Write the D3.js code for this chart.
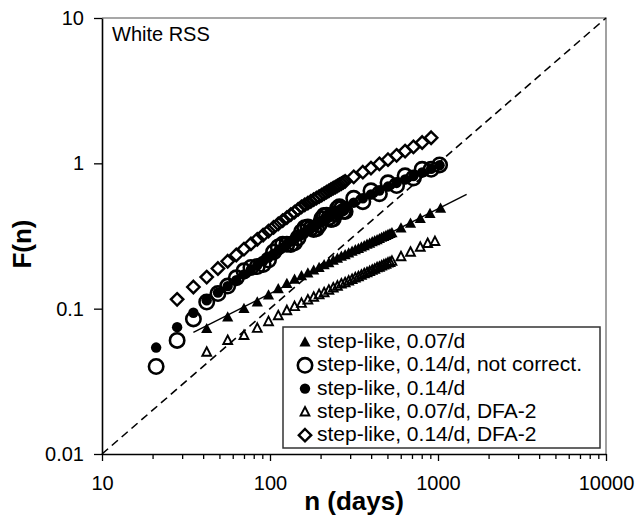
<!DOCTYPE html>
<html>
<head>
<meta charset="utf-8">
<script src="https://cdn.jsdelivr.net/npm/d3@7"></script>
<style>
  body { margin: 0; background: #fff; }
  svg { display: block; }
</style>
</head>
<body>
<div class="chart"></div>
<script>
// window sizes n (days) -- 0.14/d runs use 7-day steps, 0.07/d runs 14-day steps
var nStep7 = [21, 28, 35, 42, 49, 56, 63, 70, 77, 84, 91, 98, 105, 112, 119, 126, 133, 140, 147, 154,
  161, 168, 175, 182, 189, 196, 203, 210, 217, 224, 231, 238, 245, 252, 259, 266, 273, 280,
  315, 357, 399, 448, 504, 567, 637, 714, 805, 910, 1022];
var nDiamond = nStep7.slice(1, -1);
var nStep14 = [42, 56, 70, 84, 98, 112, 126, 140, 154, 168, 182, 196, 210, 224, 238, 252, 266, 280,
  294, 308, 322, 336, 350, 364, 378, 392, 406, 420, 434, 448, 462, 476, 490, 504, 518, 532];
var nTriFilled = nStep14.concat([602, 686, 784, 896, 1036]);
var nTriOpen = nStep14.concat([602, 686, 784, 868, 959]);

// F(n) values
var fStep007 = [0.0728, 0.0875, 0.100, 0.111, 0.124, 0.137, 0.149, 0.159, 0.168, 0.176, 0.184, 0.192,
  0.200, 0.207, 0.215, 0.222, 0.229, 0.235, 0.241, 0.248, 0.254, 0.259, 0.265, 0.271, 0.277, 0.282,
  0.288, 0.293, 0.298, 0.303, 0.309, 0.313, 0.318, 0.323, 0.328, 0.333, 0.358, 0.386, 0.417, 0.451, 0.490];
var fStep014NotCorr = [0.040, 0.0605, 0.085, 0.111, 0.127, 0.143, 0.163, 0.182, 0.192, 0.195, 0.201,
  0.216, 0.245, 0.266, 0.277, 0.277, 0.276, 0.284, 0.307, 0.338, 0.360, 0.364, 0.357, 0.350, 0.355,
  0.377, 0.415, 0.437, 0.439, 0.423, 0.410, 0.414, 0.448, 0.489, 0.503, 0.489, 0.468, 0.466,
  0.574, 0.545, 0.647, 0.618, 0.734, 0.704, 0.820, 0.793, 0.910, 0.909, 0.975];
var fStep014 = [0.054, 0.0746, 0.0938, 0.114, 0.129, 0.143, 0.157, 0.172, 0.186, 0.199, 0.212, 0.225,
  0.238, 0.251, 0.264, 0.277, 0.290, 0.302, 0.313, 0.325, 0.336, 0.347, 0.357, 0.368, 0.378, 0.389,
  0.399, 0.408, 0.418, 0.427, 0.436, 0.445, 0.453, 0.461, 0.470, 0.479, 0.488, 0.496,
  0.536, 0.574, 0.610, 0.650, 0.692, 0.733, 0.774, 0.818, 0.867, 0.918, 0.970];
var fStep007Dfa2 = [0.0502, 0.0605, 0.0655, 0.0733, 0.0815, 0.0895, 0.0970, 0.1035, 0.109, 0.115,
  0.120, 0.125, 0.129, 0.134, 0.139, 0.143, 0.148, 0.151, 0.155, 0.159, 0.163, 0.166, 0.170, 0.174,
  0.177, 0.180, 0.184, 0.187, 0.191, 0.193, 0.197, 0.200, 0.202, 0.206, 0.208, 0.212,
  0.228, 0.245, 0.265, 0.281, 0.290];
var fStep014Dfa2 = [0.116, 0.141, 0.165, 0.189, 0.212, 0.234, 0.257, 0.279, 0.300, 0.321, 0.342,
  0.362, 0.383, 0.404, 0.423, 0.444, 0.462, 0.482, 0.502, 0.518, 0.532, 0.547, 0.562, 0.577, 0.590,
  0.605, 0.619, 0.633, 0.647, 0.661, 0.675, 0.687, 0.700, 0.713, 0.726, 0.739, 0.752,
  0.807, 0.869, 0.927, 0.991, 1.059, 1.135, 1.214, 1.297, 1.391, 1.50];

// power-law fit through the 0.07/d points, and the slope-1 reference line
var fitLine = [[35, 0.0687], [1480, 0.612]];
var refLine = [[10, 0.01], [10000, 10]];

var xMajor = [10, 100, 1000, 10000];
var yMajor = [0.01, 0.1, 1, 10];
var legendLabels = ["step-like, 0.07/d", "step-like, 0.14/d, not correct.", "step-like, 0.14/d",
  "step-like, 0.07/d, DFA-2", "step-like, 0.14/d, DFA-2"];

var svgWidth = 638;
var svgHeight = 517;
var margin = { top: 18, right: 32, bottom: 63, left: 102 };
var width = svgWidth - margin.left - margin.right;
var height = svgHeight - margin.top - margin.bottom;
var fontFam = "'Liberation Sans', Arial, Helvetica, sans-serif";

var svg = d3.select(".chart")
  .append("svg")
  .attr("width", svgWidth)
  .attr("height", svgHeight)
  .style("font-family", fontFam);

var chartGroup = svg.append("g")
  .attr("transform", `translate(${margin.left}, ${margin.top})`);

var xLogScale = d3.scaleLog().domain([10, 10000]).range([0, width]);
var yLogScale = d3.scaleLog().domain([0.01, 10]).range([height, 0]);

var xMinor = [];
[10, 100, 1000].forEach(function(dec) {
  for (var k = 2; k < 10; k++) xMinor.push(k * dec);
});

// top and right frame (grey)
chartGroup.append("path")
  .attr("d", `M0,0H${width}V${height}`)
  .attr("fill", "none")
  .attr("stroke", "#8a8a8a")
  .attr("stroke-width", 1.6);

// axes
var xMinorAxis = chartGroup.append("g")
  .attr("transform", `translate(0, ${height})`)
  .call(d3.axisBottom(xLogScale).tickValues(xMinor).tickSize(5).tickFormat(""));
xMinorAxis.select(".domain").remove();

var xAxis = chartGroup.append("g")
  .attr("transform", `translate(0, ${height})`)
  .call(d3.axisBottom(xLogScale).tickValues(xMajor).tickSize(7).tickSizeOuter(0)
    .tickPadding(15).tickFormat(d => String(d)));

var yAxis = chartGroup.append("g")
  .call(d3.axisLeft(yLogScale).tickValues(yMajor).tickSize(8).tickSizeOuter(0)
    .tickPadding(10).tickFormat(d => String(d)));

[xMinorAxis, xAxis, yAxis].forEach(function(ax) {
  ax.attr("font-family", fontFam).attr("font-size", 20);
  ax.selectAll("line").attr("stroke", "#000").attr("stroke-width", 1.3);
  ax.selectAll(".domain").attr("stroke", "#000").attr("stroke-width", 1.6);
  ax.selectAll("text").attr("fill", "#000");
});

var lineGen = d3.line()
  .x(d => xLogScale(d[0]))
  .y(d => yLogScale(d[1]));

chartGroup.append("path")
  .attr("d", lineGen(refLine))
  .attr("fill", "none")
  .attr("stroke", "#000")
  .attr("stroke-width", 1.6)
  .attr("stroke-dasharray", "8,5");

// marker shapes
var shapes = {
  triFilled: { d: "M0,-5.8L5.6,4.4L-5.6,4.4Z", fill: "#000", stroke: "none", sw: 0 },
  triOpen: { d: "M0,-4.9L4.4,3.6L-4.4,3.6Z", fill: "none", stroke: "#000", sw: 1.9 },
  circOpen: { r: 7.2, fill: "none", stroke: "#000", sw: 2.6 },
  circFilled: { r: 5.2, fill: "#000", stroke: "none", sw: 0 },
  diamond: { d: "M0,-6.2L6.2,0L0,6.2L-6.2,0Z", fill: "none", stroke: "#000", sw: 2.4 }
};

function drawMarkers(sel, shape) {
  var s = shapes[shape];
  var m = s.r ? sel.append("circle").attr("r", s.r) : sel.append("path").attr("d", s.d);
  m.attr("fill", s.fill)
    .attr("stroke", s.stroke)
    .attr("stroke-width", s.sw)
    .attr("stroke-linejoin", "miter");
  return m;
}

var series = [
  { n: nTriFilled, f: fStep007, shape: "triFilled" },
  { n: nStep7, f: fStep014NotCorr, shape: "circOpen" },
  { n: nStep7, f: fStep014, shape: "circFilled" },
  { n: nTriOpen, f: fStep007Dfa2, shape: "triOpen" },
  { n: nDiamond, f: fStep014Dfa2, shape: "diamond" }
];

series.forEach(function(s) {
  var pts = chartGroup.append("g")
    .selectAll("g")
    .data(d3.zip(s.n, s.f))
    .enter()
    .append("g")
    .attr("transform", d => `translate(${xLogScale(d[0])}, ${yLogScale(d[1])})`);
  drawMarkers(pts, s.shape);
});

chartGroup.append("path")
  .attr("d", lineGen(fitLine))
  .attr("fill", "none")
  .attr("stroke", "#000")
  .attr("stroke-width", 1.4);

// panel label
chartGroup.append("text")
  .attr("x", 10)
  .attr("y", 23)
  .attr("font-size", 20)
  .text("White RSS");

// axis titles
svg.append("text")
  .attr("x", margin.left + width / 2)
  .attr("y", 510)
  .attr("text-anchor", "middle")
  .attr("font-size", 26)
  .attr("font-weight", "bold")
  .text("n (days)");

svg.append("text")
  .attr("transform", "translate(31, 244) rotate(-90)")
  .attr("text-anchor", "middle")
  .attr("font-size", 26)
  .attr("font-weight", "bold")
  .text("F(n)");

// legend
var legendGroup = svg.append("g").attr("transform", "translate(283, 327)");
legendGroup.append("rect")
  .attr("width", 317)
  .attr("height", 121)
  .attr("fill", "#fff")
  .attr("stroke", "#333")
  .attr("stroke-width", 1.5);

var legendRows = legendGroup.selectAll("g.row")
  .data(series)
  .enter()
  .append("g")
  .classed("row", true)
  .attr("transform", (d, i) => `translate(0, ${21 + i * 23.3})`);

legendRows.each(function(d) {
  var mk = d3.select(this).append("g").attr("transform", "translate(22, -6)");
  drawMarkers(mk, d.shape);
});

legendRows.append("text")
  .attr("x", 34)
  .attr("y", 0)
  .attr("font-size", 21)
  .text((d, i) => legendLabels[i]);
</script>
</body>
</html>
